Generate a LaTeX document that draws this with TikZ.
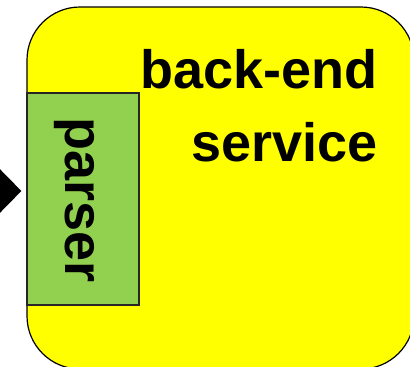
\documentclass[tikz,border=0pt]{standalone}
\usepackage{fontspec}
\setmainfont{Liberation Sans}
\usetikzlibrary{arrows.meta}
\definecolor{parsergreen}{HTML}{92D050}
\definecolor{serviceyellow}{HTML}{FFFF00}

\begin{document}
\begin{tikzpicture}[x=1pt,y=-1pt,
    servicebox/.style={draw=black,line width=1.2pt,fill=serviceyellow,rounded corners=53pt},
    modulebox/.style={draw=black!85,line width=1.2pt,fill=parsergreen},
    bigtext/.style={font=\bfseries\fontsize{54}{73}\selectfont,inner sep=0pt}]
        \useasboundingbox (0,0) rectangle (410,367);
        \clip (0,0) rectangle (410,367);
        % service box, running off the right and bottom edges
        \node[servicebox,minimum width=387,minimum height=362] (backend) at (220.5,188) {};
        \node[bigtext,align=right,anchor=base east] (title) at (378,161) {back-end\\service};
        % parser sits on the left side of the service
        \node[modulebox,minimum width=112,minimum height=212] (parser) at (83,199) {};
        \node[bigtext,rotate=-90,anchor=base] (parsertext) at (65,200) {parser};
        % incoming request
        \coordinate (in) at (-40,191);
        \draw[-{Triangle[length=24pt,width=48pt]},line width=4pt,shorten >=5pt] (in) -- (in -| parser.west);
      \end{tikzpicture}
\end{document}
